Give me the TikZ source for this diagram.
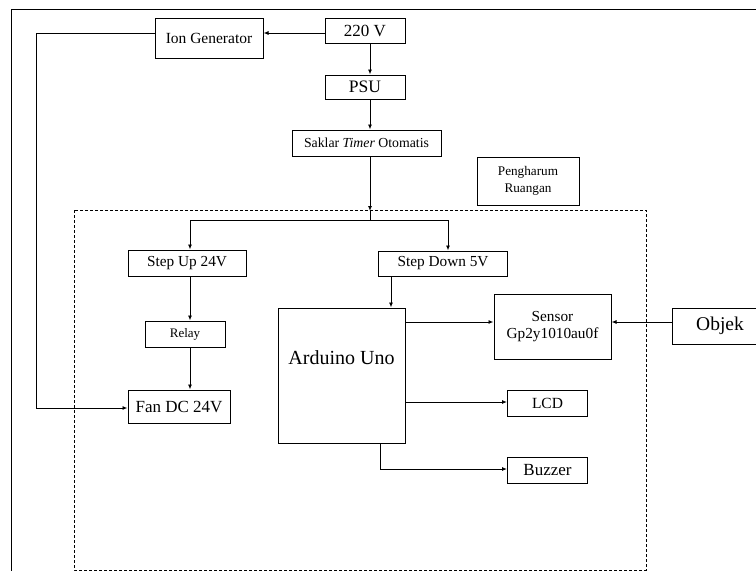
\documentclass[tikz,border=0pt]{standalone}
\usepackage{fontspec}
\setmainfont{Liberation Serif}
\newfontfamily\tnr{Liberation Serif}
\usetikzlibrary{arrows.meta}
\begin{document}
\begin{tikzpicture}[x=1pt,y=-1pt,
  blk/.style={draw, line width=1pt, inner sep=0pt, align=center},
  arr/.style={-{Latex[length=5pt,width=4pt]}, line width=0.9pt},
  ln/.style={line width=0.9pt},
  fs/.style={font=\tnr\fontsize{#1}{#1}\selectfont}]
\useasboundingbox (0,0) rectangle (756,571);
\clip (0,0) rectangle (756,571);
% outer frame
\draw[line width=1pt] (11,571) -- (11,9) -- (760,9);
% dashed region
\draw[line width=0.9pt, dash pattern=on 3pt off 2pt] (74,210) rectangle (646,570);
% blocks
\node[blk, fs=15.5, minimum width=108, minimum height=40] (ion) at (209,38) {Ion Generator};
\node[blk, fs=17, minimum width=80, minimum height=25] (v220) at (365,30.5) {220 V};
\node[blk, fs=17.5, minimum width=80, minimum height=24] (psu) at (365,87) {PSU};
\node[blk, fs=13.8, minimum width=149, minimum height=26] (saklar) at (366.5,143) {Saklar \textit{Timer} Otomatis};
\node[blk, font=\tnr\fontsize{13.2}{17}\selectfont, minimum width=102, minimum height=48] (harum) at (528,181) {Pengharum\\Ruangan};
\node[blk, fs=15.3, minimum width=118, minimum height=26] (stepup) at (187,263) {Step Up 24V};
\node[blk, fs=15.3, minimum width=129, minimum height=25] (stepdown) at (443,263.5) {Step Down 5V};
\node[blk, fs=13, minimum width=80, minimum height=26] (relay) at (185,334) {Relay};
\node[blk, fs=17, minimum width=102, minimum height=33] (fan) at (179,406.5) {Fan DC 24V};
\node[blk, minimum width=127, minimum height=135] (ard) at (341.5,375.5) {};
\node[fs=20, inner sep=0pt] (ardtxt) at (341.5,358) {Arduino Uno};
\node[blk, font=\tnr\fontsize{15.3}{17}\selectfont, minimum width=117, minimum height=65] (sensor) at (552.5,326.5) {Sensor\\Gp2y1010au0f};
\node[blk, fs=15.5, minimum width=80, minimum height=26] (lcd) at (547.5,403) {LCD};
\node[blk, fs=17, minimum width=80, minimum height=26] (buzzer) at (547.5,470.5) {Buzzer};
\node[blk, minimum width=90, minimum height=36] (objek) at (717,326) {};
\node[fs=19.5, inner sep=0pt] (objtxt) at (720,326) {Objek};
% coordinates
\coordinate (fb1) at (36,33);
\coordinate (fb2) at (36,408);
\coordinate (top) at (370,211);
\coordinate (split) at (370,220);
\coordinate (sl) at (190,220);
\coordinate (sr) at (448,220);
\coordinate (bz) at (380,469);
% connectors
\draw[arr] (v220.west |- 0,33) -- (ion.east |- 0,33);
\draw[arr] (ion.west |- 0,33) -- (fb1) -- (fb2) -- (fan.west |- fb2);
\draw[arr] (v220.south -| 370,0) -- (psu.north -| 370,0);
\draw[arr] (psu.south -| 370,0) -- (saklar.north -| 370,0);
\draw[arr] (saklar.south -| 370,0) -- (top);
\draw[ln] (top) -- (split);
\draw[ln] (sl) -- (sr);
\draw[arr] (sl) -- (stepup.north -| sl);
\draw[arr] (sr) -- (stepdown.north -| sr);
\draw[arr] (stepup.south -| 190,0) -- (relay.north -| 190,0);
\draw[arr] (relay.south -| 190,0) -- (fan.north -| 190,0);
\draw[arr] (stepdown.south -| 391,0) -- (ard.north -| 391,0);
\draw[arr] (ard.east |- 0,322) -- (sensor.west |- 0,322);
\draw[arr] (objek.west |- 0,322) -- (sensor.east |- 0,322);
\draw[arr] (ard.east |- 0,402) -- (lcd.west |- 0,402);
\draw[arr] (ard.south -| bz) -- (bz) -- (buzzer.west |- bz);
\end{tikzpicture}
\end{document}
